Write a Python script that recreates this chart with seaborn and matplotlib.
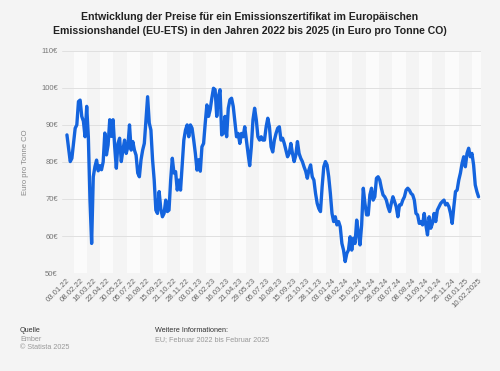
import numpy as np
import pandas as pd
import matplotlib
matplotlib.use('Agg')
import matplotlib.pyplot as plt
import seaborn as sns

# price readings (Euro / t) from left to right
prices_part1 = [
    87.3, 83.7, 80.1, 81.0, 85.0, 89.1, 90.0, 96.3, 96.7, 92.3, 91.0, 86.8, 95.0, 86.8,
    69.7, 58.0, 76.0, 78.7, 80.5, 77.6, 79.0, 77.9, 80.0, 87.8, 81.9, 84.6, 91.4, 86.9,
    91.4, 84.1, 78.3, 85.0, 86.4, 80.1, 83.2, 85.9, 82.3, 84.1, 90.0, 83.2, 85.5, 83.2,
    81.8, 77.0, 76.0, 80.6, 83.2, 85.0, 91.4, 97.6, 90.5, 88.6, 80.6, 75.1, 67.0, 66.1,
    72.0, 67.4, 65.2, 66.1, 69.7, 66.6, 67.0, 75.1, 81.0, 77.0, 77.4, 72.4, 75.1, 72.4,
    79.0, 85.9, 88.6, 90.0, 86.8, 90.0, 89.1, 85.9, 82.3, 77.8, 80.6, 77.5, 84.1, 85.0,
    90.5, 95.4, 92.3, 94.1, 97.2, 99.9, 99.5, 92.3, 97.7, 99.5, 87.3, 87.7, 92.3, 86.8,
    94.5, 96.8, 97.2, 95.0, 91.0, 86.8, 87.7, 85.0, 87.7, 86.8, 89.5, 85.9, 82.3, 79.0,
    84.1, 91.4, 94.5, 91.4, 86.8, 85.9, 86.8, 85.9, 85.9, 89.5, 91.8, 89.5, 84.1, 82.7,
    85.9, 87.7, 89.1, 89.5,
]
prices_part2 = [
    85.9, 86.4, 85.0, 83.2, 81.4, 82.3, 85.0, 82.3, 80.1, 81.8, 85.5, 82.3, 81.0, 80.1,
    78.7, 77.5, 75.6, 77.9, 79.2, 76.0, 75.1, 71.5, 68.8, 67.4, 66.6, 73.3, 78.7, 80.1,
    79.2, 76.0, 71.5, 66.1, 63.9, 65.2, 63.0, 63.9, 62.5, 58.0, 56.2, 53.1, 55.3, 56.2,
    59.8, 56.2, 59.4, 58.0, 64.3, 60.7, 57.6, 63.0, 72.9, 68.8, 65.7, 65.7, 71.1, 72.9,
    69.7, 70.6, 75.6, 76.0, 75.1, 72.9, 71.1, 70.6, 69.7, 67.9, 66.6, 68.8, 70.6, 69.3,
    67.9, 65.2, 68.4, 68.4, 69.7, 70.6, 72.4, 72.9, 72.4, 71.5, 71.1, 69.7, 66.1, 65.7,
    63.4, 63.9, 63.0, 66.1, 63.0, 60.3, 65.2, 62.1, 63.4, 66.1, 63.9, 67.0, 67.9, 68.8,
    69.3, 69.7, 68.4, 68.8, 67.9, 66.1, 63.4, 67.9, 72.0, 72.4, 75.1, 77.0, 79.6, 81.4,
    78.7, 82.3, 83.7, 81.4, 82.3, 79.2, 73.8, 72.0, 70.6,
]
prices = prices_part1 + prices_part2

tick_labels = [
    '03.01.22', '08.02.22', '16.03.22', '22.04.22', '30.05.22', '05.07.22', '10.08.22',
    '15.09.22', '21.10.22', '28.11.22', '03.01.23', '08.02.23', '16.03.23', '21.04.23',
    '29.05.23', '05.07.23', '10.08.23', '15.09.23', '23.10.23', '28.11.23', '03.01.24',
    '08.02.24', '15.03.24', '23.04.24', '28.05.24', '03.07.24', '08.08.24', '13.09.24',
    '21.10.24', '26.11.24', '03.01.25', '10.02.2025',
]
y_ticks = [50, 60, 70, 80, 90, 100, 110]

df = pd.DataFrame({'step': np.arange(len(prices)), 'price': prices})

sns.set_style('white')
plt.rcParams['font.family'] = ['Liberation Sans', 'DejaVu Sans']

bg = '#f4f4f4'
fig = plt.figure(figsize=(5, 3.71), dpi=100, facecolor=bg)
ax = fig.add_axes([0.124, 0.264, 0.838, 0.599])
ax.set_facecolor('#fbfbfb')

tick_pos = np.linspace(0, len(prices) - 1, len(tick_labels))
step = tick_pos[1] - tick_pos[0]
# alternating vertical bands
for i in range(0, len(tick_pos), 2):
    ax.axvspan(tick_pos[i] - step / 2, tick_pos[i] + step / 2, color='#f4f4f4', lw=0, zorder=0)

for v in y_ticks:
    ax.axhline(v, color='#e0e0e0', lw=0.7, zorder=1)

sns.lineplot(data=df, x='step', y='price', ax=ax, color='#1464de', lw=2.4, zorder=3)

ax.set_xlim(-3, len(prices) + 0.5)
ax.set_ylim(50, 110)
ax.set_yticks(y_ticks)
ax.set_yticklabels([f'{v}€' for v in y_ticks], fontsize=5.5, color='#777777')
ax.set_xticks(tick_pos)
ax.set_xticklabels(tick_labels, rotation=45, ha='right', rotation_mode='anchor',
                   fontsize=5.6, color='#666666')
ax.tick_params(axis='both', length=0, pad=3)
ax.set_xlabel('')
ax.set_ylabel('Euro pro Tonne CO', fontsize=5.5, color='#888888', labelpad=9)
for s in ax.spines.values():
    s.set_visible(False)

fig.text(0.5, 0.935, 'Entwicklung der Preise für ein Emissionszertifikat im Europäischen\n'
         'Emissionshandel (EU-ETS) in den Jahren 2022 bis 2025 (in Euro pro Tonne CO)',
         ha='center', va='center', fontsize=7.6, fontweight='bold', color='#222222',
         linespacing=1.5)

fig.text(0.04, 0.108, 'Quelle', fontsize=5.2, color='#333333', va='center')
fig.text(0.04, 0.085, 'Ember', fontsize=5.2, color='#999999', va='center')
fig.text(0.04, 0.062, '© Statista 2025', fontsize=5.2, color='#999999', va='center')
fig.text(0.31, 0.108, 'Weitere Informationen:', fontsize=5.2, color='#333333', va='center')
fig.text(0.31, 0.085, 'EU; Februar 2022 bis Februar 2025', fontsize=5.2, color='#999999', va='center')

fig.savefig('out.png', dpi=100, facecolor=bg)
